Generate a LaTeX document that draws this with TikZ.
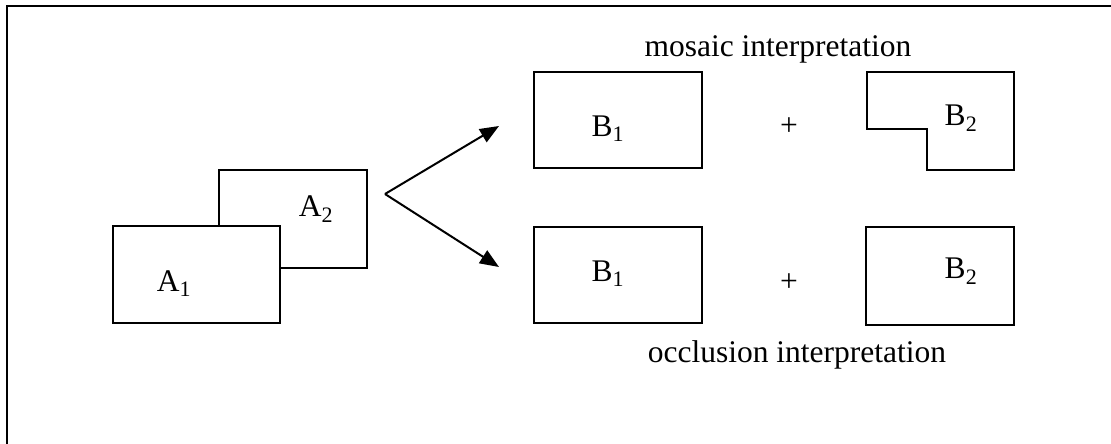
\documentclass[tikz,border=0pt]{standalone}
\usepackage{fontspec}
\setmainfont{Liberation Serif}
\usetikzlibrary{arrows.meta}
\begin{document}
\begin{tikzpicture}[x=1pt,y=-1pt,
  shape line/.style={line width=2pt, line join=miter},
  lbl/.style={inner sep=0pt, anchor=base, font=\fontsize{31.5}{36}\selectfont},
  conn/.style={line width=2pt, -{Triangle[length=19pt,width=15pt]}}]
\useasboundingbox (0,0) rectangle (1111,444);
% frame (top and left edges only)
\draw[line width=2.2pt] (1111,6) -- (7,6) -- (7,444);
% A2 (partly hidden) and A1
\draw[shape line] (219,226) -- (219,170) -- (367,170) -- (367,268) -- (280,268);
\draw[shape line] (113,226) rectangle (280,323);
\node[lbl] (a1) at (174,291) {A\textsubscript{1}};
\node[lbl] (a2) at (316,216) {A\textsubscript{2}};
% fork arrows
\coordinate (fork) at (385,194);
\coordinate (up) at (499,126);
\coordinate (down) at (499,267);
\draw[conn] (fork) -- (up);
\draw[conn] (fork) -- (down);
% mosaic interpretation
\node[lbl] (mosaic) at (778,57) {mosaic interpretation};
\draw[shape line] (534,72) rectangle (702,168);
\node[lbl] (b1t) at (608,136) {B\textsubscript{1}};
\node[lbl] (plust) at (789,135) {+};
\draw[shape line] (867,72) -- (1014,72) -- (1014,170) -- (927,170) -- (927,129) -- (867,129) -- cycle;
\node[lbl] (b2t) at (961,125) {B\textsubscript{2}};
% occlusion interpretation
\draw[shape line] (534,227) rectangle (702,323);
\node[lbl] (b1b) at (608,281) {B\textsubscript{1}};
\node[lbl] (plusb) at (789,291) {+};
\draw[shape line] (866,227) rectangle (1014,325);
\node[lbl] (b2b) at (961,278) {B\textsubscript{2}};
\node[lbl] (occl) at (797,362) {occlusion interpretation};
\end{tikzpicture}
\end{document}
